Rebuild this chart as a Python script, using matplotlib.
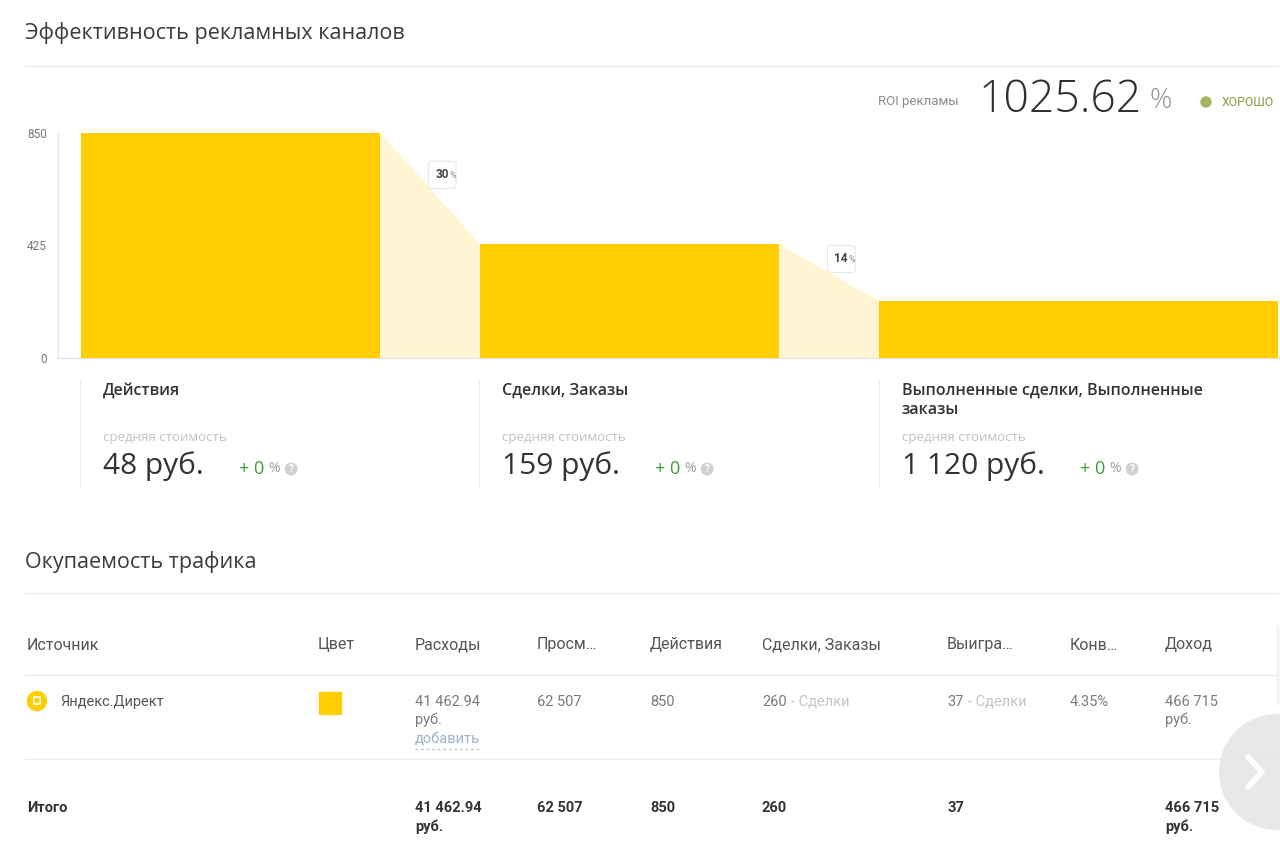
import matplotlib
matplotlib.use("Agg")
import matplotlib.pyplot as plt
from matplotlib.patches import Circle, Rectangle, FancyBboxPatch

# funnel data
stages = ["Действия", "Сделки, Заказы", "Выполненные сделки, Выполненные\nзаказы"]
stage_counts = [850, 260, 37]
bar_heights = [850, 430, 215]   # heights as the widget draws them
conversion = ["30", "14"]
avg_cost = ["48 руб.", "159 руб.", "1 120 руб."]
cost_change = ["+ 0", "+ 0", "+ 0"]
y_ticks = [0, 425, 850]
roi_value = "1025.62"
roi_status = "ХОРОШО"

# table data
table_header = ["Источник", "Цвет", "Расходы", "Просм…", "Действия",
                "Сделки, Заказы", "Выигра…", "Конв…", "Доход"]
row_source = "Яндекс.Директ"
row_spend = ["41 462.94", "руб."]
row_views = "62 507"
row_actions = "850"
row_deals = "260"
row_won = "37"
row_conv = "4.35%"
row_income = ["466 715", "руб."]
total_label = "Итого"

W, H = 1280, 858
YELLOW = "#FFCD00"
LIGHT = "#FFF5D2"
HEAD_FONT = ["Open Sans", "DejaVu Sans"]
TAB_FONT = ["Roboto", "DejaVu Sans"]

fig = plt.figure(figsize=(W / 100, H / 100), dpi=100)
fig.patch.set_facecolor("white")

# overlay in pixel coordinates for the page layout
pg = fig.add_axes([0, 0, 1, 1])
pg.set_xlim(0, W)
pg.set_ylim(H, 0)
pg.axis("off")


def txt(x, y, s, size, color="#333333", family=HEAD_FONT, **kw):
    return pg.text(x, y, s, fontsize=size, color=color, family=family,
                   va="center", ha=kw.pop("ha", "left"), **kw)


def after(artist, s, size, color, gap=4, family=TAB_FONT, **kw):
    return pg.annotate(s, xy=(1, 0.5), xycoords=artist, xytext=(gap, 0),
                       textcoords="offset points", va="center", ha="left",
                       fontsize=size, color=color, family=family, **kw)


def hline(y, x0=25, x1=1278, color="#ececec"):
    pg.plot([x0, x1], [y, y], color=color, lw=1)


# section 1 header
txt(25, 33, "Эффективность рекламных каналов", 15.5, "#3a3a3a")
hline(66)

# ROI block
txt(878, 101, "ROI рекламы", 9.5, "#8c8c8c", family=TAB_FONT)
roi = txt(979, 101, roi_value, 32, "#2e2e2e", fontweight="light")
after(roi, "%", 20, "#8f959c", gap=5, family=HEAD_FONT, fontweight="light")
pg.add_patch(Circle((1206, 102), 5, color="#a3b65e"))
txt(1222, 102, roi_status, 8.8, "#8a9b3c", family=TAB_FONT)

# funnel chart
ax = fig.add_axes([58 / W, 1 - 358 / H, 1222 / W, 225 / H])
ax.patch.set_alpha(0)
x_left = [i - 0.375 for i in range(len(bar_heights))]
widths = [0.75, 0.75, 1.0]
ax.bar(x_left, bar_heights, width=widths, align="edge", color=YELLOW, zorder=3)
for i in range(len(bar_heights) - 1):
    xr = x_left[i] + widths[i]
    xn = x_left[i + 1]
    ax.fill([xr, xn, xn, xr], [bar_heights[i], bar_heights[i + 1], 0, 0],
            color=LIGHT, lw=0, zorder=2)
    ymid = (bar_heights[i] + bar_heights[i + 1]) / 2 + 52
    t = ax.text(i + 0.53, ymid, conversion[i], fontsize=8.5, fontweight="bold",
                color="#444444", family=TAB_FONT, ha="center", va="center",
                zorder=5,
                bbox=dict(boxstyle="round,pad=0.6,rounding_size=0.25",
                          fc="white", ec="#e8e8e8", lw=0.8))
    ax.annotate("%", xy=(1, 0.45), xycoords=t, xytext=(0.5, 0),
                textcoords="offset points", fontsize=6.5, color="#888888",
                va="center", ha="left", family=TAB_FONT, zorder=6)
ax.set_xlim(-0.433, -0.433 + 1222 / 399)
ax.set_ylim(0, 850)
ax.set_yticks(y_ticks)
ax.set_yticklabels([str(v) for v in y_ticks], fontsize=8.5, color="#777777",
                   family=TAB_FONT)
ax.tick_params(axis="y", length=0, pad=8)
ax.set_xticks([])
for s in ["top", "right"]:
    ax.spines[s].set_visible(False)
ax.spines["left"].set_color("#e8e8e8")
ax.spines["bottom"].set_color("#e0e0e0")

# stage cards under the funnel
card_x = [103, 502, 902]
plus_x = [239, 655, 1080]
for i, name in enumerate(stages):
    x = card_x[i]
    pg.plot([x - 23, x - 23], [380, 486], color="#eeeeee", lw=1)
    lines = name.split("\n")
    for k, ln in enumerate(lines):
        txt(x, 391 + k * 19, ln, 11.5, "#333333", fontweight="semibold")
    txt(x, 437, "средняя стоимость", 9.5, "#c2c2c2")
    txt(x, 466, avg_cost[i], 21.5, "#333333")
    p = txt(plus_x[i], 469, cost_change[i], 13, "#3e9a3e")
    pc = after(p, "%", 10, "#a0a0a0", gap=3, family=HEAD_FONT)
    pg.annotate("?", xy=(1, 0.5), xycoords=pc, xytext=(8, 0),
                textcoords="offset points", va="center", ha="center",
                fontsize=7, fontweight="bold", color="white",
                family=TAB_FONT,
                bbox=dict(boxstyle="circle,pad=0.15", fc="#d0d0d0",
                          ec="none"))

# section 2 header
txt(25, 562, "Окупаемость трафика", 15.5, "#3a3a3a")
hline(593)

col_x = [27, 318, 415, 537, 650, 762, 947, 1070, 1165]
for x, h in zip(col_x, table_header):
    txt(x, 645, h, 11.5, "#555555", family=TAB_FONT)
hline(675)

# data row
ry = 701
gray = "#7a7a7a"
pg.add_patch(Circle((37, ry), 9.5, color=YELLOW))
pg.add_patch(FancyBboxPatch((33, ry - 5), 8, 9,
                            boxstyle="round,pad=0,rounding_size=1.5",
                            fc="white", ec="none", alpha=0.9))
pg.add_patch(Circle((37, ry - 0.5), 2, color=YELLOW))
txt(col_x[0] + 33, ry + 1, row_source, 10.5, "#555555", family=TAB_FONT)
pg.add_patch(Rectangle((319, 692), 22, 22, color=YELLOW))
txt(col_x[2], ry + 1, row_spend[0], 10.5, gray, family=TAB_FONT)
txt(col_x[2], ry + 19, row_spend[1], 10.5, gray, family=TAB_FONT)
txt(col_x[2], ry + 39, "добавить", 10.5, "#9cb3cc", family=TAB_FONT)
pg.plot([col_x[2], col_x[2] + 67], [ry + 48, ry + 48], color="#b8c8d8",
        lw=1, ls=(0, (2, 2)))
txt(col_x[3], ry + 1, row_views, 10.5, gray, family=TAB_FONT)
txt(col_x[4], ry + 1, row_actions, 10.5, gray, family=TAB_FONT)
d = txt(col_x[5], ry + 1, row_deals, 10.5, gray, family=TAB_FONT)
after(d, "- Сделки", 10.5, "#c4c4c4", gap=3)
w = txt(col_x[6], ry + 1, row_won, 10.5, gray, family=TAB_FONT)
after(w, "- Сделки", 10.5, "#c4c4c4", gap=3)
txt(col_x[7], ry + 1, row_conv, 10.5, gray, family=TAB_FONT)
txt(col_x[8], ry + 1, row_income[0], 10.5, gray, family=TAB_FONT)
txt(col_x[8], ry + 19, row_income[1], 10.5, gray, family=TAB_FONT)
hline(759)

# totals row
ty = 808
dark = "#333333"
bold = dict(family=TAB_FONT, fontweight="bold")
txt(col_x[0], ty, total_label, 10.5, dark, **bold)
txt(col_x[2], ty, row_spend[0], 10.5, dark, **bold)
txt(col_x[2], ty + 19, row_spend[1], 10.5, dark, **bold)
txt(col_x[3], ty, row_views, 10.5, dark, **bold)
txt(col_x[4], ty, row_actions, 10.5, dark, **bold)
txt(col_x[5], ty, row_deals, 10.5, dark, **bold)
txt(col_x[6], ty, row_won, 10.5, dark, **bold)
txt(col_x[8], ty, row_income[0], 10.5, dark, **bold)
txt(col_x[8], ty + 19, row_income[1], 10.5, dark, **bold)

# scroll shadow and next-page button at right edge
pg.add_patch(Rectangle((1276, 625), 4, 80, color="#f4f4f4", lw=0))
pg.add_patch(Circle((1277, 772), 58, color="#e4e4e4", alpha=0.85, lw=0, zorder=10))
pg.plot([1248, 1262, 1248], [757, 772, 787], color="white", lw=4,
        solid_capstyle="round", zorder=11)

fig.savefig("out.png", dpi=100)
